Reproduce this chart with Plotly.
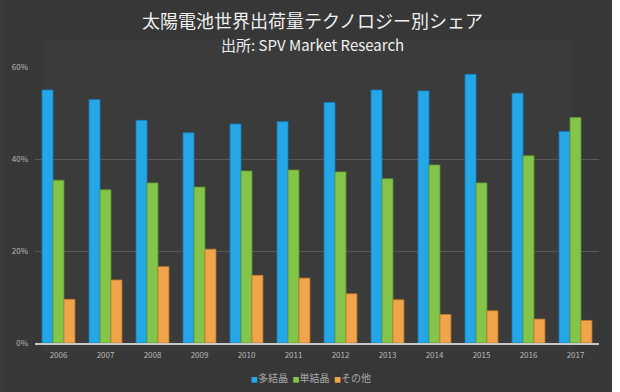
import plotly.graph_objects as go

years = ["2006", "2007", "2008", "2009", "2010", "2011", "2012", "2013", "2014", "2015", "2016", "2017"]
multi = [55.0, 52.9, 48.4, 45.7, 47.6, 48.1, 52.3, 55.0, 54.8, 58.4, 54.3, 46.0]
mono = [35.4, 33.3, 34.8, 33.9, 37.4, 37.6, 37.2, 35.7, 38.7, 34.8, 40.7, 49.0]
other = [9.5, 13.7, 16.6, 20.4, 14.7, 14.1, 10.7, 9.4, 6.2, 7.0, 5.2, 4.9]
series_names = ["多結晶", "単結晶", "その他"]
colors = ["#25a6e6", "#84c44a", "#f0a54a"]
edge_colors = ["#1580c0", "#5e9a2e", "#c07a28"]

W, H = 612, 392
ML, MR, MT, MB = 31, 13, 67, 49
PW, PH = W - ML - MR, H - MT - MB


def px_x(x):
    return (x - ML) / PW


def px_y(y):
    return (H - MB - y) / PH


fig = go.Figure()
for name, vals, c, ec in zip(series_names, [multi, mono, other], colors, edge_colors):
    fig.add_trace(go.Bar(
        x=years, y=[v / 100 for v in vals], name=name, showlegend=False,
        marker=dict(color=c, line=dict(color=ec, width=0.8)),
    ))

legend_text = "&nbsp;&nbsp;".join(
    f"<span style='color:{c};font-size:7px'>■</span>{n}" for n, c in zip(series_names, colors)
)

# subtle vignette: many nested translucent frames around the page edge
shapes = []
for i in range(20):
    inset = 1 + i * 2
    shapes.append(dict(
        type="rect", xref="paper", yref="paper", layer="below",
        x0=px_x(inset), x1=px_x(W - inset), y0=px_y(H - inset), y1=px_y(inset),
        line=dict(color="rgba(0,0,0,0.02)", width=4), fillcolor="rgba(0,0,0,0)",
    ))

fig.update_layout(
    width=W, height=H,
    paper_bgcolor="#3b3b3b", plot_bgcolor="rgba(0,0,0,0)",
    margin=dict(l=ML, r=MR, t=MT, b=MB),
    barmode="group", bargap=0.3, bargroupgap=0.0,
    font=dict(family="Noto Sans CJK JP, Noto Sans", color="#b8b8b8", size=8),
    shapes=shapes,
    xaxis=dict(showgrid=False, showline=True, linecolor="#c8c8c8", linewidth=1.5,
               ticks="", tickfont=dict(size=8, color="#b8b8b8"), ticklabelstandoff=4),
    yaxis=dict(range=[0, 0.6], tickvals=[0, 0.2, 0.4, 0.6], tickformat=".0%",
               showgrid=True, gridcolor="#575757", gridwidth=1, zeroline=False,
               ticks="", tickfont=dict(size=8, color="#b8b8b8"), ticklabelstandoff=6),
    annotations=[
        dict(text="太陽電池世界出荷量テクノロジー別シェア", x=px_x(310), xref="paper",
             xanchor="center", y=px_y(20), yref="paper", yanchor="middle",
             showarrow=False, font=dict(size=18, color="#f0f0f0", family="Noto Sans CJK JP")),
        dict(text="出所: SPV Market Research", x=px_x(310), xref="paper",
             xanchor="center", y=px_y(44), yref="paper", yanchor="middle",
             showarrow=False, font=dict(size=15, color="#f0f0f0", family="Noto Sans CJK JP")),
        dict(text=legend_text, x=px_x(309), xref="paper", xanchor="center",
             y=px_y(377), yref="paper", yanchor="middle", showarrow=False,
             font=dict(size=10, color="#a8a8a8", family="Noto Sans CJK JP")),
    ],
)

fig.write_html("out.html", config={"displayModeBar": False},
               post_script="document.body.style.margin='0';")
